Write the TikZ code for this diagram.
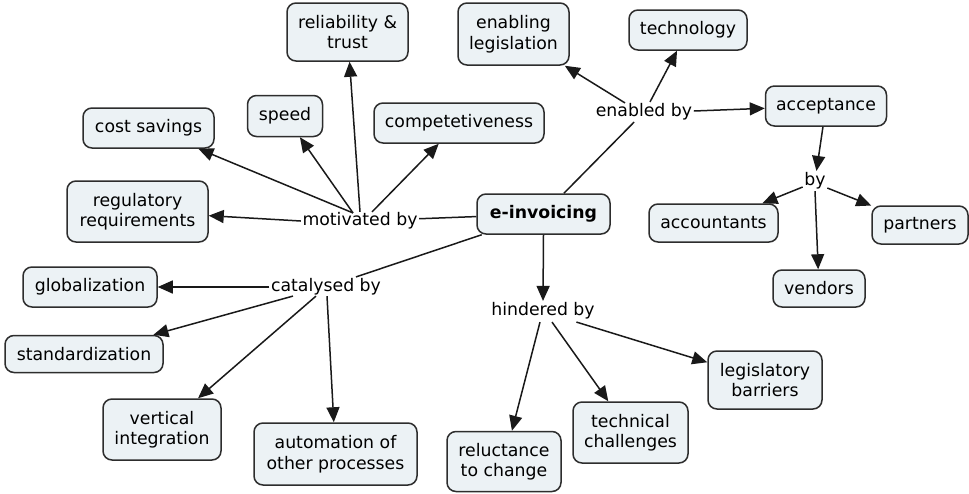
\documentclass[tikz,border=0pt]{standalone}
\usepackage{fontspec}
\setmainfont{DejaVu Sans}
\usetikzlibrary{calc,arrows.meta}
\definecolor{boxfill}{RGB}{236,242,245}
\definecolor{boxline}{RGB}{45,45,45}
\tikzset{
  box/.style={draw=boxline, fill=boxfill, rounded corners=9, line width=1.5,
    align=center, inner sep=0, font=\fontsize{17.3}{20.5}\selectfont},
  lab/.style={inner sep=1.5, font=\fontsize{17.3}{20.5}\selectfont},
  ln/.style={line width=1.5, draw=black!90},
  arr/.style={ln, -{Triangle[length=15,width=13]}},
}
\begin{document}
\begin{tikzpicture}[x=1pt,y=-1pt]
\useasboundingbox (0,0) rectangle (969,493);
% concepts
\node[box, minimum width=133, minimum height=40, font=\fontsize{17.3}{20.5}\selectfont\bfseries] (einv) at (543.5,214) {e-invoicing};
\node[box, minimum width=131, minimum height=40] (cost) at (148.5,128) {cost savings};
\node[box, minimum width=75, minimum height=41] (speed) at (285,116) {speed};
\node[box, minimum width=121, minimum height=58] (rel) at (347.5,32) {reliability \&\\trust};
\node[box, minimum width=170, minimum height=40] (comp) at (459,123) {competetiveness};
\node[box, minimum width=141, minimum height=61] (reg) at (137.5,211.5) {regulatory\\requirements};
\node[box, minimum width=111, minimum height=62] (enleg) at (513.5,34) {enabling\\legislation};
\node[box, minimum width=118, minimum height=40] (tech) at (688,30) {technology};
\node[box, minimum width=121, minimum height=40] (acc) at (826,106) {acceptance};
\node[box, minimum width=129, minimum height=38] (accnt) at (713.5,223) {accountants};
\node[box, minimum width=96, minimum height=38] (part) at (920,225) {partners};
\node[box, minimum width=92, minimum height=37] (vend) at (819,288.5) {vendors};
\node[box, minimum width=134, minimum height=40] (glob) at (90,287) {globalization};
\node[box, minimum width=158, minimum height=37] (std) at (84,354) {standardization};
\node[box, minimum width=118, minimum height=61] (vert) at (162,429.5) {vertical\\integration};
\node[box, minimum width=163, minimum height=62] (auto) at (335.5,454) {automation of\\other processes};
\node[box, minimum width=114, minimum height=60] (reluc) at (504,461.5) {reluctance\\to change};
\node[box, minimum width=115, minimum height=61] (techc) at (630.5,432.5) {technical\\challenges};
\node[box, minimum width=114, minimum height=58] (legb) at (765,380) {legislatory\\barriers};
% linking phrases
\node[lab] (mot) at (360,221) {motivated by};
\node[lab] (cat) at (326,287) {catalysed by};
\node[lab] (enab) at (644,112) {enabled by};
\node[lab] (by) at (815,181) {by};
\node[lab] (hind) at (543,311) {hindered by};
% motivated by
\draw[ln] (einv) -- (mot);
\coordinate (m1) at ($(mot.north)+(-7,2)$);
\coordinate (m2) at ($(mot.north)+(0,1)$);
\coordinate (m3) at ($(mot.north)+(12,1)$);
\draw[arr] (mot.west) -- (reg);
\draw[arr] (m1) -- (cost);
\draw[arr] (m1) -- (speed);
\draw[arr] (m2) -- (rel);
\draw[arr] (m3) -- (comp);
% catalysed by
\draw[ln] (einv) -- (cat);
\coordinate (c1) at ($(cat.south)+(-33,-1)$);
\coordinate (c2) at ($(cat.south)+(-10,-1)$);
\coordinate (c3) at ($(cat.south)+(1,-1)$);
\draw[arr] (cat.west) -- (glob);
\draw[arr] (c1) -- (std);
\draw[arr] (c2) -- (vert);
\draw[arr] (c3) -- (auto);
% enabled by
\draw[ln] (einv) -- (enab);
\coordinate (e1) at ($(enab.north)+(-19,1)$);
\coordinate (e2) at ($(enab.north)+(6,0)$);
\draw[arr] (e1) -- (enleg);
\draw[arr] (e2) -- (tech);
\draw[arr] ($(enab.east)+(0,-1)$) -- (acc);
% by
\draw[arr] (acc) -- (by);
\draw[arr] ($(by.west)+(0,6)$) -- (accnt);
\draw[arr] ($(by.east)+(0,7)$) -- (part);
\draw[arr] (by.south) -- (vend);
% hindered by
\draw[arr] (einv.south) -- (hind.north);
\coordinate (h1) at ($(hind.south)+(-3,1)$);
\coordinate (h2) at ($(hind.south)+(9,1)$);
\coordinate (h3) at ($(hind.south east)+(-20,1)$);
\draw[arr] (h1) -- (reluc);
\draw[arr] (h2) -- (techc);
\draw[arr] (h3) -- (legb);
\end{tikzpicture}
\end{document}
